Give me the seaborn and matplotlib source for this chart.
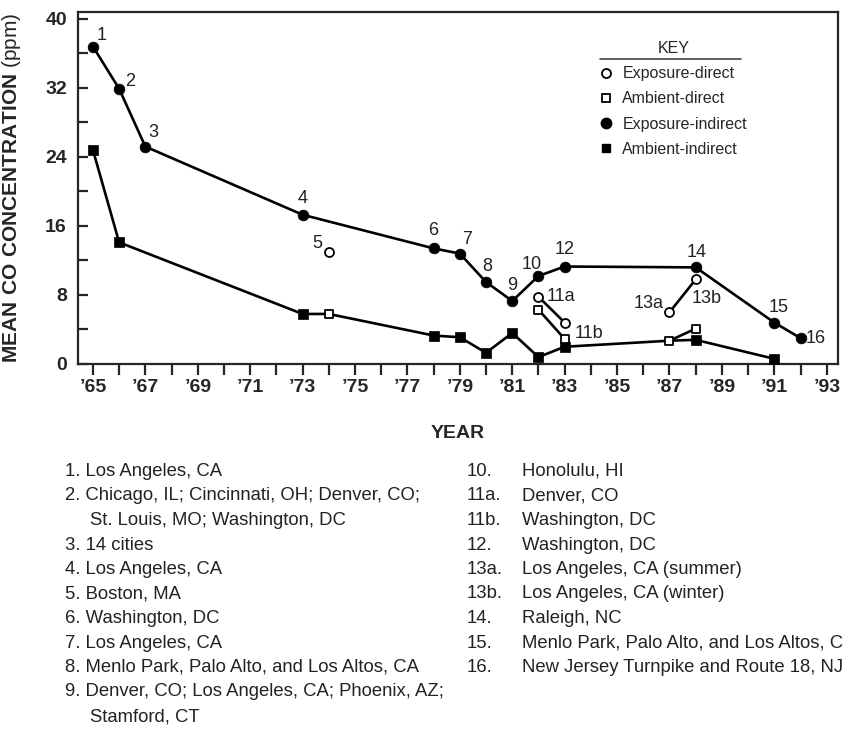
import numpy as np
import pandas as pd
import matplotlib
matplotlib.use("Agg")
import matplotlib.pyplot as plt
from matplotlib.lines import Line2D
import seaborn as sns

# exposure, indirect method (filled circles, upper line)
exp_ind_year = [65, 66, 67, 73, 78, 79, 80, 81, 82, 83, 88, 91, 92]
exp_ind_conc = [36.8, 31.9, 25.2, 17.3, 13.4, 12.8, 9.5, 7.3, 10.2, 11.3, 11.2, 4.8, 3.0]
exp_ind_lab = ["1", "2", "3", "4", "6", "7", "8", "9", "10", "12", "14", "15", "16"]

# exposure, direct method (open circles)
exp_dir_year = [74, 82, 83, 87, 88]
exp_dir_conc = [13.0, 7.8, 4.8, 6.0, 9.8]
exp_dir_lab = ["5", "11a", "", "13a", "13b"]

# ambient, direct (open squares)
amb_dir_year = [74, 82, 83, 87, 88]
amb_dir_conc = [5.8, 6.3, 2.9, 2.7, 4.1]
amb_dir_lab = ["", "", "11b", "", ""]

# ambient, indirect (filled squares, lower line)
amb_ind_year = [65, 66, 73, 78, 79, 80, 81, 82, 83, 88, 91]
amb_ind_conc = [24.8, 14.1, 5.8, 3.3, 3.1, 1.3, 3.6, 0.8, 2.0, 2.8, 0.6]

# open squares that sit on the lower line, and the paired direct studies
amb_line_extra = [74, 87]
pair_years = [(82, 83), (87, 88)]

key_labels = ["Exposure-direct", "Ambient-direct", "Exposure-indirect", "Ambient-indirect"]

left_notes = [
    "1. Los Angeles, CA",
    "2. Chicago, IL; Cincinnati, OH; Denver, CO;\nSt. Louis, MO; Washington, DC",
    "3. 14 cities",
    "4. Los Angeles, CA",
    "5. Boston, MA",
    "6. Washington, DC",
    "7. Los Angeles, CA",
    "8. Menlo Park, Palo Alto, and Los Altos, CA",
    "9. Denver, CO; Los Angeles, CA; Phoenix, AZ;\nStamford, CT",
]
right_nums = ["10.", "11a.", "11b.", "12.", "13a.", "13b.", "14.", "15.", "16."]
right_notes = [
    "Honolulu, HI",
    "Denver, CO",
    "Washington, DC",
    "Washington, DC",
    "Los Angeles, CA (summer)",
    "Los Angeles, CA (winter)",
    "Raleigh, NC",
    "Menlo Park, Palo Alto, and Los Altos, CA",
    "New Jersey Turnpike and Route 18, NJ",
]

# label placement (offset points, horizontal alignment)
lab_pos = {
    "1": (6, 8, "center"), "2": (8, 5, "center"), "3": (6, 10, "center"),
    "4": (0, 12, "center"), "5": (-5, 6, "right"), "6": (0, 13, "center"),
    "7": (5, 10, "center"), "8": (1, 11, "center"), "9": (0, 11, "center"),
    "10": (-5, 8, "center"), "12": (0, 12, "center"), "14": (1, 11, "center"),
    "15": (3, 11, "center"), "16": (4, 0, "left"), "11a": (6, 0, "left"),
    "11b": (7, 4, "left"), "13a": (-4, 6, "right"), "13b": (-3, -14, "left"),
}

sns.set_style("ticks")
plt.rcParams["font.family"] = ["Liberation Sans", "DejaVu Sans"]
plt.rcParams["mathtext.fontset"] = "custom"
plt.rcParams["mathtext.bf"] = "Liberation Sans:bold"
plt.rcParams["mathtext.rm"] = "Liberation Sans"

W, H = 843, 729
fig = plt.figure(figsize=(W / 100, H / 100), dpi=100)
ax = fig.add_axes([78 / W, 1 - 364 / H, 760 / W, 352 / H])

exp_ind = pd.DataFrame({"year": exp_ind_year, "conc": exp_ind_conc, "lab": exp_ind_lab})
exp_dir = pd.DataFrame({"year": exp_dir_year, "conc": exp_dir_conc, "lab": exp_dir_lab})
amb_dir = pd.DataFrame({"year": amb_dir_year, "conc": amb_dir_conc, "lab": amb_dir_lab})
amb_ind = pd.DataFrame({"year": amb_ind_year, "conc": amb_ind_conc})

# connecting lines
segs = []
segs.append(exp_ind[["year", "conc"]].assign(seg="exposure"))
amb_line = pd.concat([amb_ind, amb_dir[amb_dir.year.isin(amb_line_extra)][["year", "conc"]]])
segs.append(amb_line.sort_values("year").assign(seg="ambient"))
for i, (a, b) in enumerate(pair_years):
    segs.append(exp_dir[exp_dir.year.isin([a, b])][["year", "conc"]].assign(seg=f"e{i}"))
    segs.append(amb_dir[amb_dir.year.isin([a, b])][["year", "conc"]].assign(seg=f"a{i}"))
seg_df = pd.concat(segs, ignore_index=True)
sns.lineplot(data=seg_df, x="year", y="conc", units="seg", estimator=None, sort=False,
             color="black", linewidth=1.9, legend=False, ax=ax)

# markers
sns.scatterplot(data=exp_ind, x="year", y="conc", marker="o", s=60, color="black",
                edgecolor="black", linewidth=0.5, zorder=3, ax=ax)
sns.scatterplot(data=amb_ind, x="year", y="conc", marker="s", s=42, color="black",
                edgecolor="black", linewidth=0.5, zorder=3, ax=ax)
sns.scatterplot(data=exp_dir, x="year", y="conc", marker="o", s=42, color="white",
                edgecolor="black", linewidth=1.3, zorder=3, ax=ax)
sns.scatterplot(data=amb_dir, x="year", y="conc", marker="s", s=38, color="white",
                edgecolor="black", linewidth=1.3, zorder=3, ax=ax)

for df in (exp_ind, exp_dir, amb_dir):
    for _, r in df.iterrows():
        if not r["lab"]:
            continue
        dx, dy, ha = lab_pos[r["lab"]]
        ax.annotate(r["lab"], (r["year"], r["conc"]), xytext=(dx, dy),
                    textcoords="offset points", ha=ha, va="center", fontsize=13,
                    color="#222222")

ax.set_xlim(64.43, 93.43)
ax.set_ylim(0, 40.8)
ax.set_xticks(range(65, 94))
ax.set_xticklabels(["\u2019%d" % y if y % 2 else "" for y in range(65, 94)])
ax.set_yticks(range(0, 41, 4))
ax.set_yticklabels([str(v) if v % 8 == 0 else "" for v in range(0, 41, 4)])
ax.tick_params(axis="x", direction="out", length=8, width=1.6, pad=3, labelsize=14)
ax.tick_params(axis="y", direction="in", length=7, width=1.6, pad=8, labelsize=14)
for lbl in ax.get_xticklabels() + ax.get_yticklabels():
    lbl.set_fontweight("bold")
for sp in ax.spines.values():
    sp.set_linewidth(1.6)
    sp.set_visible(True)

ax.set_xlabel("YEAR", fontsize=14, fontweight="bold", labelpad=21)
ax.set_ylabel(r"$\mathbf{MEAN\ CO\ CONCENTRATION}$ (ppm)", fontsize=15)
ax.yaxis.set_label_coords(-0.072, 0.5)

# key
handles = [
    Line2D([], [], ls="none", marker="o", ms=6.5, mfc="white", mec="black", mew=1.3),
    Line2D([], [], ls="none", marker="s", ms=6, mfc="white", mec="black", mew=1.3),
    Line2D([], [], ls="none", marker="o", ms=7.5, mfc="black", mec="black"),
    Line2D([], [], ls="none", marker="s", ms=6, mfc="black", mec="black"),
]
leg = ax.legend(handles, key_labels, title="KEY", loc="upper left",
                bbox_to_anchor=((600 - 78) / 760, (364 - 41) / 352), frameon=False,
                fontsize=11.5, title_fontsize=11.5, handlelength=0.8, handletextpad=0.6,
                labelspacing=0.64, borderpad=0, borderaxespad=0)
fig.canvas.draw()
tb = leg.get_title().get_window_extent()
lb = leg.get_window_extent()
fig.add_artist(Line2D([lb.x0 / W, (lb.x1 - 6) / W], [(tb.y0 - 3) / H, (tb.y0 - 3) / H],
                      color="#444444", linewidth=1.2))

# site notes under the chart
row_h = 24.5
y0 = 470
r = 0
for note in left_notes:
    for j, line in enumerate(note.split("\n")):
        fig.text((65 if j == 0 else 90) / W, 1 - (y0 + r * row_h + 6) / H, line,
                 fontsize=13.3, va="baseline", color="#222222")
        r += 1
for i, (num, txt) in enumerate(zip(right_nums, right_notes)):
    yy = 1 - (y0 + i * row_h + 6) / H
    fig.text(467 / W, yy, num, fontsize=13.3, va="baseline", color="#222222")
    fig.text(522 / W, yy, txt, fontsize=13.3, va="baseline", color="#222222")

fig.savefig("out.png", dpi=100)
